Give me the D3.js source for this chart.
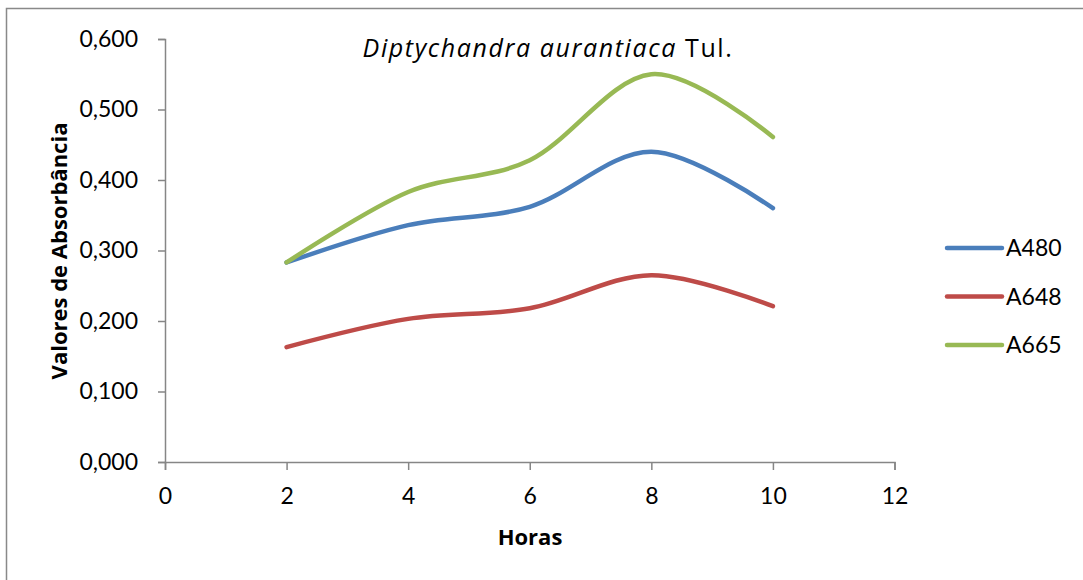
<!DOCTYPE html>
<html>
<head>
<meta charset="utf-8">
<script src="https://cdn.jsdelivr.net/npm/d3@7"></script>
<style>
  body { margin: 0; background: #fff; }
  text { fill: #000; }
</style>
</head>
<body>
<svg width="1083" height="580"></svg>
<script>
// data
const horas = [2, 4, 6, 8, 10];
const a480 = [0.283, 0.336, 0.362, 0.440, 0.360];
const a648 = [0.163, 0.203, 0.218, 0.265, 0.221];
const a665 = [0.283, 0.383, 0.428, 0.550, 0.461];
const seriesNames = ["A480", "A648", "A665"];
const seriesColors = ["#4a7ebb", "#be4b48", "#98b954"];
const xTicks = [0, 2, 4, 6, 8, 10, 12];
const yTicks = [0, 0.1, 0.2, 0.3, 0.4, 0.5, 0.6];

const series = [a480, a648, a665].map((vals, i) => ({
    name: seriesNames[i],
    color: seriesColors[i],
    points: vals.map((v, j) => ({ x: horas[j], y: v }))
}));

const svg = d3.select("svg");

// frame (only left and top edges show in the picture)
svg.append("path")
    .attr("d", "M6.5,580 L6.5,8.5 L1083,8.5")
    .attr("fill", "none")
    .attr("stroke", "#898989")
    .attr("stroke-width", 1.5);

const x = d3.scaleLinear().domain([0, 12]).range([165, 894.5]);
const y = d3.scaleLinear().domain([0, 0.6]).range([462, 39]);

const fmt = d => d.toFixed(3).replace(".", ",");

const yAxis = svg.append("g")
    .attr("transform", "translate(165,0)")
    .call(d3.axisLeft(y).tickValues(yTicks).tickFormat(fmt).tickSize(7).tickPadding(20));

const xAxis = svg.append("g")
    .attr("transform", "translate(0,462)")
    .call(d3.axisBottom(x).tickValues(xTicks).tickFormat(d3.format("d")).tickSize(8).tickPadding(18));

[xAxis, yAxis].forEach(ax => {
    ax.select(".domain").attr("stroke", "#868686").attr("stroke-width", 1.5);
    ax.selectAll(".tick line").attr("stroke", "#868686").attr("stroke-width", 1.5);
    ax.selectAll(".tick text")
        .style("font-size", "23px")
        .style("font-family", "Lato, sans-serif")
        .attr("fill", "#000");
});

const line = d3.line()
    .x(d => x(d.x))
    .y(d => y(d.y))
    .curve(d3.curveCatmullRom.alpha(0));

svg.selectAll(".serie")
    .data(series)
    .enter()
    .append("path")
    .attr("class", "serie")
    .attr("d", d => line(d.points))
    .attr("fill", "none")
    .attr("stroke", d => d.color)
    .attr("stroke-width", 4.5)
    .attr("stroke-linecap", "round");

// title
const title = svg.append("text")
    .attr("x", 548)
    .attr("y", 57)
    .attr("text-anchor", "middle")
    .style("font-family", "'Open Sans', sans-serif")
    .style("font-size", "25px")
    .style("letter-spacing", "1.6px");
title.append("tspan").style("font-style", "italic").text("Diptychandra aurantiaca");
title.append("tspan").text(" Tul.");

// axis titles
svg.append("text")
    .attr("x", 530)
    .attr("y", 545)
    .attr("text-anchor", "middle")
    .style("font-family", "'Open Sans', sans-serif")
    .style("font-size", "22px")
    .style("font-weight", "bold")
    .text("Horas");

svg.append("text")
    .attr("transform", "translate(67,251) rotate(-90)")
    .attr("text-anchor", "middle")
    .style("font-family", "'Open Sans', sans-serif")
    .style("font-size", "22px")
    .style("font-weight", "bold")
    .text("Valores de Absorbância");

// legend
const legend = svg.selectAll(".legend")
    .data(series)
    .enter()
    .append("g")
    .attr("class", "legend")
    .attr("transform", (d, i) => `translate(947,${248 + i * 48.5})`);

legend.append("line")
    .attr("x1", 0).attr("x2", 55)
    .attr("stroke", d => d.color)
    .attr("stroke-width", 4.5)
    .attr("stroke-linecap", "round");

legend.append("text")
    .attr("x", 59)
    .attr("y", 8)
    .style("font-family", "Lato, sans-serif")
    .style("font-size", "23px")
    .text(d => d.name);
</script>
</body>
</html>
